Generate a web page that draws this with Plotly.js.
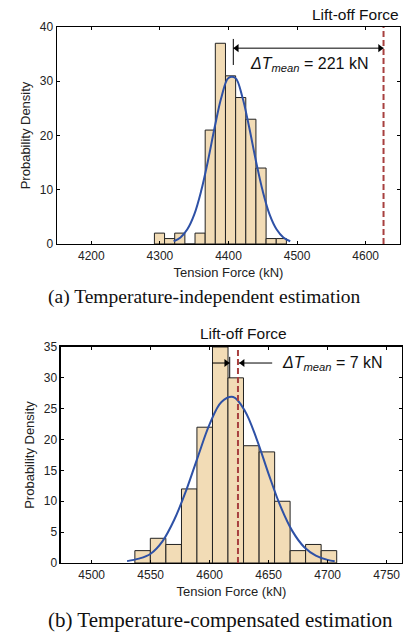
<!DOCTYPE html>
<html>
<head>
<meta charset="utf-8">
<script src="https://cdn.plot.ly/plotly-3.0.1.min.js"></script>
<style>html,body{margin:0;padding:0;background:#fff;}#chart{width:406px;height:637px;}</style>
</head>
<body>
<div id="chart"></div>
<script>
// ---- (a) Temperature-independent estimation ----
const binCentersA = [4299.4, 4314.2, 4329.0, 4343.8, 4358.6, 4373.4, 4388.2, 4403.0, 4417.8, 4432.6, 4447.4, 4462.2, 4477.0];
const densityA    = [2, 1, 2, 0, 2, 21, 37, 31, 27, 23, 14, 1, 1];
const fitXA = [4320, 4330, 4340, 4350, 4360, 4370, 4380, 4390, 4400, 4410, 4420, 4430, 4440, 4450, 4460, 4470, 4480, 4490];
const fitYA = [0.5, 1.2, 2.7, 5.4, 9.7, 15.3, 21.6, 27.2, 30.6, 30.6, 27.2, 21.6, 15.3, 9.7, 5.4, 2.7, 1.2, 0.5];
const liftOffA = 4626;
const deltaA = 221;
const ticksXA = [4200, 4300, 4400, 4500, 4600];
const ticksYA = [0, 10, 20, 30, 40];

// ---- (b) Temperature-compensated estimation ----
const binCentersB = [4543.2, 4556.3, 4569.5, 4582.7, 4595.8, 4609.0, 4622.1, 4635.3, 4648.5, 4661.6, 4674.8, 4687.9, 4701.1];
const densityB    = [2, 4, 3, 12, 22, 35, 30, 19, 18, 10, 2, 3, 2];
const fitXB = [4530, 4540, 4550, 4560, 4570, 4580, 4590, 4600, 4610, 4620, 4630, 4640, 4650, 4660, 4670, 4680, 4690, 4700, 4706];
const fitYB = [0.3, 0.7, 1.5, 3.5, 7.0, 11.7, 17.2, 22.5, 26.1, 26.9, 24.6, 20.0, 14.4, 9.2, 5.2, 2.6, 1.2, 0.5, 0.3];
const liftOffB = 4624;
const deltaB = 7;
const ticksXB = [4500, 4550, 4600, 4650, 4700, 4750];
const ticksYB = [0, 5, 10, 15, 20, 25, 30, 35];

const meanA = liftOffA - deltaA;
const meanB = liftOffB - deltaB;

const rangeXA = [4150, 4650], rangeXB = [4474, 4763];
const domXA = [0.1404, 0.9852], domXB = [0.1502, 0.9901];
const W = 406, H = 637;
// kN per pixel, used to keep arrow tips on their guide lines
const kpxA = (rangeXA[1]-rangeXA[0]) / ((domXA[1]-domXA[0]) * W);
const kpxB = (rangeXB[1]-rangeXB[0]) / ((domXB[1]-domXB[0]) * W);
const headSize = 7;

const sans = 'Liberation Sans, Arial, sans-serif';
const serif = 'Liberation Serif, Times New Roman, serif';
const barFill = '#F2DCB6';
const barLine = '#222222';
const fitColor = '#2E51A6';
const liftColor = '#A8403F';

function arrowLine(xs, y, symbols, xa, ya) {
  return {type:'scatter', mode:'lines+markers', x:xs, y:[y, y], xaxis:xa, yaxis:ya,
    line:{color:'#000', width:1},
    marker:{symbol:symbols, size:[symbols[0]?headSize:0, symbols[1]?headSize:0], color:'#000', line:{width:0}},
    showlegend:false, hoverinfo:'skip'};
}

const traces = [
  {type:'bar', x:binCentersA, y:densityA, width:14.8, xaxis:'x', yaxis:'y',
   marker:{color:barFill, line:{color:barLine, width:1}}, showlegend:false, hoverinfo:'skip'},
  {type:'scatter', mode:'lines', x:fitXA, y:fitYA, xaxis:'x', yaxis:'y',
   line:{color:fitColor, width:2, shape:'spline'}, showlegend:false},
  {type:'bar', x:binCentersB, y:densityB, width:13.16, xaxis:'x2', yaxis:'y2',
   marker:{color:barFill, line:{color:barLine, width:1}}, showlegend:false, hoverinfo:'skip'},
  {type:'scatter', mode:'lines', x:fitXB, y:fitYB, xaxis:'x2', yaxis:'y2',
   line:{color:fitColor, width:2, shape:'spline'}, showlegend:false},
  // (a) double-headed arrow between mean and lift-off
  {type:'scatter', mode:'lines', x:[meanA+2, liftOffA], y:[36.1, 36.1], xaxis:'x', yaxis:'y',
   line:{color:'#000', width:1}, showlegend:false, hoverinfo:'skip'},
  {type:'scatter', mode:'markers', x:[meanA+2+kpxA*headSize/2, liftOffA-kpxA*headSize/2], y:[36.1, 36.1],
   xaxis:'x', yaxis:'y', marker:{symbol:['triangle-left','triangle-right'], size:headSize, color:'#000'},
   showlegend:false, hoverinfo:'skip'},
  // (b) two inward-pointing arrows
  {type:'scatter', mode:'lines', x:[4602, meanB], y:[32.4, 32.4], xaxis:'x2', yaxis:'y2',
   line:{color:'#000', width:1}, showlegend:false, hoverinfo:'skip'},
  {type:'scatter', mode:'lines', x:[4653, liftOffB], y:[32.4, 32.4], xaxis:'x2', yaxis:'y2',
   line:{color:'#000', width:1}, showlegend:false, hoverinfo:'skip'},
  {type:'scatter', mode:'markers', x:[meanB-kpxB*headSize/2, liftOffB+1+kpxB*headSize/2], y:[32.4, 32.4],
   xaxis:'x2', yaxis:'y2', marker:{symbol:['triangle-right','triangle-left'], size:headSize, color:'#000'},
   showlegend:false, hoverinfo:'skip'}
];

function xax(domain, anchor, range, tickvals) {
  return {domain:domain, anchor:anchor, range:range, tickvals:tickvals,
    ticks:'inside', ticklen:3, tickwidth:1, tickcolor:'#000', mirror:'all',
    showline:true, linecolor:'#000', linewidth:1.5, showgrid:false, zeroline:false,
    tickfont:{family:sans, size:12, color:'#222'},
    title:{text:'Tension Force (kN)', font:{family:sans, size:13, color:'#222'}, standoff:6}};
}
function yax(domain, anchor, range, tickvals) {
  return {domain:domain, anchor:anchor, range:range, tickvals:tickvals,
    ticks:'inside', ticklen:3, tickwidth:1, tickcolor:'#000', mirror:'all',
    showline:true, linecolor:'#000', linewidth:1.5, showgrid:false, zeroline:false,
    tickfont:{family:sans, size:12, color:'#222'},
    title:{text:'Probability Density', font:{family:sans, size:13, color:'#222'}, standoff:6}};
}

const layout = {
  width:W, height:H, margin:{l:0, r:0, t:0, b:0},
  paper_bgcolor:'#fff', plot_bgcolor:'#fff', bargap:0, showlegend:false,
  xaxis: xax(domXA, 'y', rangeXA, ticksXA),
  yaxis: yax([0.617, 0.9576], 'x', [0, 40], ticksYA),
  xaxis2: xax(domXB, 'y2', rangeXB, ticksXB),
  yaxis2: yax([0.1162, 0.4553], 'x2', [0, 35], ticksYB),
  shapes: [
    {type:'line', xref:'x', yref:'y', x0:liftOffA, x1:liftOffA, y0:0, y1:40,
     line:{color:liftColor, width:2, dash:'6px,3px'}},
    {type:'line', xref:'x', yref:'y', x0:meanA+2, x1:meanA+2, y0:33, y1:37.8,
     line:{color:'#000', width:1}},
    {type:'line', xref:'x2', yref:'y2', x0:liftOffB, x1:liftOffB, y0:0, y1:35,
     line:{color:liftColor, width:2, dash:'6px,3px'}},
    {type:'line', xref:'x2', yref:'y2', x0:meanB, x1:meanB, y0:30, y1:33.4,
     line:{color:'#000', width:1}}
  ],
  annotations: [
    {xref:'x', yref:'y', x:4429, y:33, xanchor:'left', yanchor:'middle', showarrow:false,
     text:'<i>ΔT</i><sub><i>mean</i></sub> = ' + deltaA + ' kN', font:{family:sans, size:16, color:'#111'}},
    {xref:'paper', yref:'paper', x:355/W, y:1-14/H, xanchor:'center', yanchor:'middle', showarrow:false,
     text:'Lift-off Force', font:{family:sans, size:15.5, color:'#111'}},
    {xref:'paper', yref:'paper', x:204.5/W, y:1-297/H, xanchor:'center', yanchor:'middle', showarrow:false,
     text:'(a) Temperature-independent estimation', font:{family:serif, size:19.5, color:'#111'}},
    {xref:'x2', yref:'y2', x:4659.6, y:32.4, xanchor:'left', yanchor:'middle', showarrow:false,
     text:'<i>ΔT</i><sub><i>mean</i></sub> = ' + deltaB + ' kN', font:{family:sans, size:16, color:'#111'}},
    {xref:'paper', yref:'paper', x:243/W, y:1-333/H, xanchor:'center', yanchor:'middle', showarrow:false,
     text:'Lift-off Force', font:{family:sans, size:15.5, color:'#111'}},
    {xref:'paper', yref:'paper', x:221/W, y:1-620/H, xanchor:'center', yanchor:'middle', showarrow:false,
     text:'(b) Temperature-compensated estimation', font:{family:serif, size:21, color:'#111'}}
  ]
};

Plotly.newPlot('chart', traces, layout, {displayModeBar:false, staticPlot:true});
</script>
</body>
</html>
